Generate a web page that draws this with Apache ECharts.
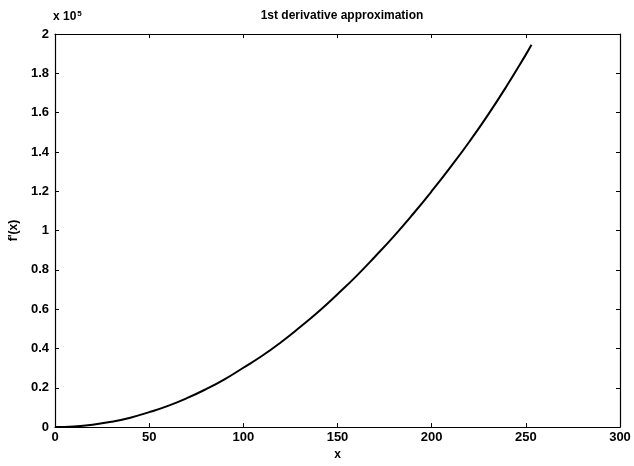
<!DOCTYPE html>
<html>
<head>
<meta charset="utf-8">
<script src="https://cdn.jsdelivr.net/npm/echarts@6/dist/echarts.min.js"></script>
<style>
html, body { margin: 0; padding: 0; background: #fff; }
#main { width: 634px; height: 466px; }
</style>
</head>
<body>
<div id="main"></div>
<script>
// curve, y in units of 1e5
var xs = [0, 10, 20, 30, 40, 50, 60, 70, 80, 90, 100, 110, 120, 130, 140,
          150, 160, 170, 180, 190, 200, 210, 220, 230, 240, 250, 253];
var ys = [0, 0.003, 0.012, 0.027, 0.048, 0.076, 0.108, 0.147, 0.192, 0.243,
          0.302, 0.363, 0.432, 0.508, 0.588, 0.676, 0.768, 0.868, 0.972,
          1.083, 1.200, 1.323, 1.452, 1.590, 1.738, 1.895, 1.945];
var xTicks = [0, 50, 100, 150, 200, 250, 300];
var yTicks = [0, 0.2, 0.4, 0.6, 0.8, 1, 1.2, 1.4, 1.6, 1.8, 2];

var dom = document.getElementById('main');
var myChart = echarts.init(dom);

var font = 'Liberation Sans';
var data = xs.map(function (x, i) { return [x, ys[i]]; });

function fmtY(v) {
    return String(Math.round(v * 10) / 10);
}

var axisBase = {
    axisLine: { show: true, onZero: false, lineStyle: { color: '#000', width: 1.2 } },
    axisTick: { show: true, inside: true, length: 4, lineStyle: { color: '#000' } },
    splitLine: { show: false }
};

var option = {
    animation: false,
    backgroundColor: '#fff',
    title: {
        text: '1st derivative approximation',
        left: 337,
        top: 5,
        textAlign: 'center',
        textStyle: { fontFamily: font, fontSize: 12, fontWeight: 'bold', color: '#000' }
    },
    grid: { left: 55, right: 14, top: 34, bottom: 33 },
    xAxis: [
        Object.assign({}, axisBase, {
            type: 'value', min: 0, max: 300, interval: 50,
            name: 'x', nameLocation: 'middle', nameGap: 16,
            nameTextStyle: { fontFamily: font, fontSize: 12, fontWeight: 'bold', color: '#000' },
            axisLabel: {
                fontFamily: font, fontSize: 13, fontWeight: 'bold', color: '#000', margin: 4,
                customValues: xTicks
            }
        }),
        Object.assign({}, axisBase, {
            type: 'value', min: 0, max: 300, interval: 50, position: 'top',
            axisLabel: { show: false }
        })
    ],
    yAxis: [
        Object.assign({}, axisBase, {
            type: 'value', min: 0, max: 2, interval: 0.2,
            name: "f'(x)", nameLocation: 'middle', nameGap: 34, nameRotate: 90,
            nameTextStyle: { fontFamily: font, fontSize: 12, fontWeight: 'bold', color: '#000' },
            axisLabel: {
                fontFamily: font, fontSize: 13, fontWeight: 'bold', color: '#000', margin: 6,
                formatter: fmtY
            }
        }),
        Object.assign({}, axisBase, {
            type: 'value', min: 0, max: 2, interval: 0.2, position: 'right',
            axisLabel: { show: false }
        })
    ],
    graphic: [{
        type: 'text',
        left: 53,
        top: 10,
        style: {
            text: '{b|x 10}{s|5}',
            rich: {
                b: { fontFamily: font, fontSize: 12, fontWeight: 'bold', fill: '#000' },
                s: { fontFamily: font, fontSize: 8, fontWeight: 'bold', fill: '#000', verticalAlign: 'top', padding: [0, 0, 6, 1] }
            }
        }
    }],
    series: [{
        type: 'line',
        data: data,
        smooth: true,
        showSymbol: false,
        xAxisIndex: 0,
        yAxisIndex: 0,
        lineStyle: { color: '#000', width: 2 }
    }]
};

myChart.setOption(option, true);
</script>
</body>
</html>
